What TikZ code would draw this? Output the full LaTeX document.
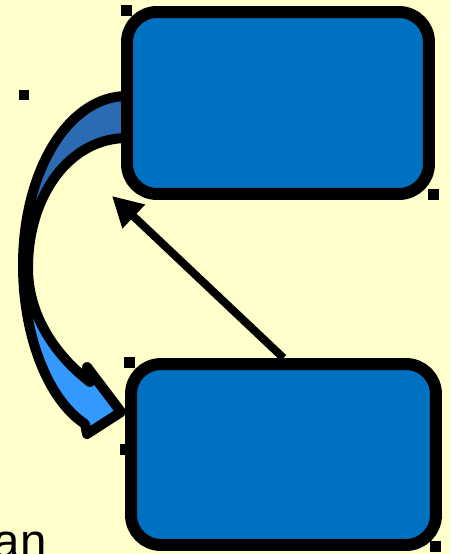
\documentclass[tikz,border=0pt]{standalone}
\usepackage{fontspec}
\setmainfont{Liberation Sans}
\usetikzlibrary{
    arrows.meta,
    positioning,
    calc
}
\definecolor{Bgyel}{RGB}{255, 255, 204}
\definecolor{Bbox}{RGB}{0, 112, 192}
\definecolor{Bdark}{RGB}{43, 107, 180}
\definecolor{Blight}{RGB}{51, 153, 255}
\tikzset{
    bbox/.style={
        rectangle, rounded corners=0.6cm, draw=black, line width=0.24cm,
        fill=Bbox, inner sep=0pt
    },
    bhandle/.style={
        rectangle, fill=black, minimum size=0.22cm, inner sep=0pt
    },
    bbend/.style={draw=black, line width=0.2cm, line join=round},
    barr/.style={-{Triangle[length=0.6cm, width=0.62cm]}, line width=0.16cm, black},
}

\begin{document}
\begin{tikzpicture}[x=0.02cm, y=-0.02cm]
    \useasboundingbox (0,0) rectangle (450,554);
    \clip (0,0) rectangle (450,554);
    \fill [Bgyel] (0,0) rectangle (450,554);

    % ── 弯曲箭头（背面 + 正面）──────────────────────────
    \path [bbend, fill=Bdark]
        (127,96) .. controls (68,96) and (23,172) .. (23,265)
        -- (28,268) .. controls (28,195) and (70,138) .. (127,138) -- cycle;
    \path [bbend, fill=Blight]
        (23,265) .. controls (23,334) and (47,399) .. (85,424)
        -- (87,434) -- (121,412) -- (87,367) -- (90,382)
        .. controls (55,355) and (28,315) .. (28,268) -- cycle;

    % ── 控制点 ──────────────────────────────────────────
    \node [bhandle] (h1) at (126,11) {};
    \node [bhandle] (h2) at (24,95) {};
    \node [bhandle] (h3) at (433,194) {};
    \node [bhandle] (h4) at (129,362) {};
    \node [bhandle] (h5) at (125,449) {};
    \node [bhandle] (h6) at (435,546) {};

    % ── 方框 ────────────────────────────────────────────
    \node [bbox, minimum width=6.04cm, minimum height=3.64cm]
        (top) at (278,103) {};
    \node [bbox, minimum width=6.1cm, minimum height=3.62cm]
        (bot) at (283.5,454.5) {};

    % ── 箭头 ────────────────────────────────────────────
    \coordinate (tip) at (112,196);
    \draw [barr] (bot.north) -- (tip);

    \node [anchor=base west, inner sep=0pt, font=\fontsize{27}{32}\selectfont]
        (lbl) at (-6.6,557) {an};

\end{tikzpicture}
\end{document}
